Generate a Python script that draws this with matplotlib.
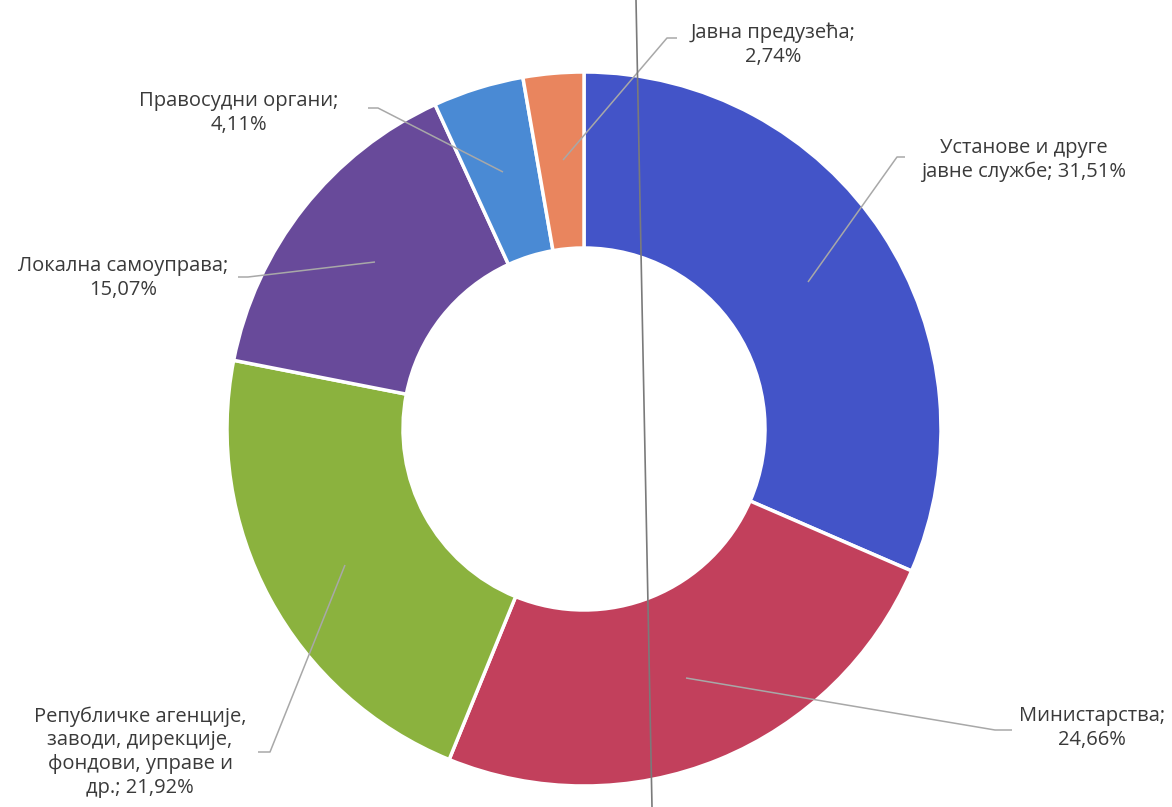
"""Donut chart: distribution by type of institution (Serbian Cyrillic labels)."""
import matplotlib
matplotlib.use("Agg")
import matplotlib.pyplot as plt
from matplotlib.lines import Line2D

# ============== DATA ==============
categories = [
    "Установе и друге\nјавне службе",
    "Министарства",
    "Републичке агенције,\nзаводи, дирекције,\nфондови, управе и\nдр.",
    "Локална самоуправа",
    "Правосудни органи",
    "Јавна предузећа",
]
shares = [31.51, 24.66, 21.92, 15.07, 4.11, 2.74]
colors = ["#4354c8", "#c2405c", "#8bb23e", "#684a9a", "#4a8ad4", "#e9855e"]
# ==================================

W, H = 1172, 807

# layout in pixel coords (y measured from top of picture)
CENTER = (584, 429)
R_OUT, R_IN = 357, 181
label_sep = [" ", "\n", " ", "\n", "\n", "\n"]
label_pos = [(1024, 160), (1092, 728), (140, 752), (123, 278), (239, 113), (773, 45)]
leaders = [
    [(905, 157), (897, 157), (808, 282)],
    [(1012, 730), (995, 730), (686, 678)],
    [(258, 752), (270, 752), (345, 565)],
    [(238, 277), (248, 277), (375, 262)],
    [(368, 108), (378, 108), (503, 172)],
    [(677, 38), (667, 38), (563, 160)],
]

plt.rcParams['font.family'] = ['Open Sans', 'DejaVu Sans']

fig = plt.figure(figsize=(W / 100, H / 100), dpi=100)
ax = fig.add_axes([0, 0, 1, 1])

ax.pie(shares, colors=colors, startangle=90, counterclock=False,
       center=(CENTER[0], H - CENTER[1]), radius=R_OUT, frame=True,
       wedgeprops=dict(width=R_OUT - R_IN, edgecolor='white', linewidth=2.5))
ax.set_xlim(0, W)
ax.set_ylim(0, H)
ax.set_aspect('equal')
ax.axis('off')

# leader lines
for pts in leaders:
    xs = [p[0] for p in pts]
    ys = [H - p[1] for p in pts]
    ax.plot(xs, ys, color='#a8a8a8', lw=1.1, solid_capstyle='butt')

# labels
for name, val, sep, (lx, ly) in zip(categories, shares, label_sep, label_pos):
    txt = f"{name};{sep}{val:.2f}%".replace('.', ',').replace('др,;', 'др.;')
    ax.text(lx, H - ly, txt, ha='center', va='center', fontsize=14.5,
            color='#3a3a3a', linespacing=1.25)

# scanning fold line visible in the original
fig.add_artist(Line2D([636 / W, 652 / W], [1, 0], transform=fig.transFigure,
                      color='#7a7a7a', lw=1.2))

fig.savefig('out.png', dpi=100)
